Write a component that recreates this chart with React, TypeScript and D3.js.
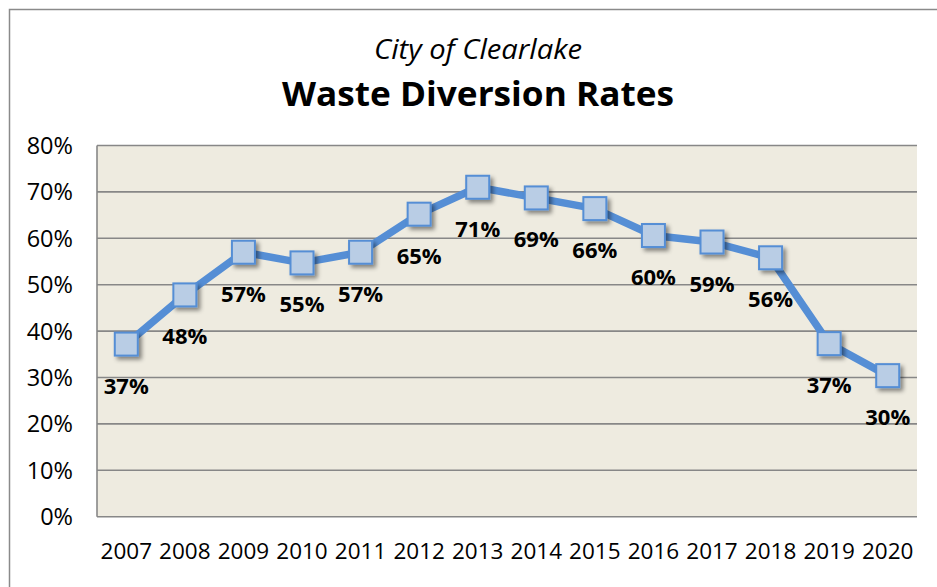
import React from "react";
import * as d3 from "d3";

const years = ["2007","2008","2009","2010","2011","2012","2013","2014","2015","2016","2017","2018","2019","2020"];
const rates = [37.2, 47.8, 57.0, 54.7, 57.0, 65.2, 71.0, 68.7, 66.4, 60.6, 59.2, 55.8, 37.3, 30.4];
const labels = ["37%","48%","57%","55%","57%","65%","71%","69%","66%","60%","59%","56%","37%","30%"];
const yTicks = [0, 10, 20, 30, 40, 50, 60, 70, 80];

const W = 937, H = 587;
const plot = { left: 97, right: 917, top: 145.5, bottom: 516.7 };
const FONT = "'Open Sans', sans-serif";

export default function App() {
  const x = d3.scaleBand<string>().domain(years).range([plot.left, plot.right]).padding(0);
  const y = d3.scaleLinear().domain([0, 80]).range([plot.bottom, plot.top]);
  const cx = (yr: string) => (x(yr) as number) + x.bandwidth() / 2;
  const line = d3.line<number>().x((_, i) => cx(years[i])).y((d) => y(d));
  const ms = 23;

  return (
    <svg width={W} height={H} style={{ position: "absolute", left: 0, top: 0, display: "block" }}>
      <defs>
        <filter id="sh" x="-50%" y="-50%" width="200%" height="200%">
          <feDropShadow dx="3" dy="3" stdDeviation="2.2" floodColor="#000" floodOpacity="0.45" />
        </filter>
      </defs>
      <rect x={0} y={0} width={W} height={H} fill="#fff" />
      <rect x={9.5} y={9.5} width={W + 20} height={H + 20} fill="none" stroke="#8a8a8a" strokeWidth={1.5} />

      <text x={478} y={59} textAnchor="middle" fontFamily={FONT} fontStyle="italic" fontSize={27} fill="#000" textLength={208} lengthAdjust="spacingAndGlyphs">City of Clearlake</text>
      <text x={478} y={106} textAnchor="middle" fontFamily={FONT} fontWeight="bold" fontSize={34} fill="#000" textLength={392} lengthAdjust="spacingAndGlyphs">Waste Diversion Rates</text>

      <rect x={plot.left} y={plot.top} width={plot.right - plot.left} height={plot.bottom - plot.top} fill="#eeebe0" />
      {yTicks.map((t) => (
        <line key={t} x1={plot.left} x2={plot.right} y1={y(t)} y2={y(t)} stroke="#878787" strokeWidth={1.6} />
      ))}
      <line x1={plot.left} x2={plot.left} y1={plot.top} y2={plot.bottom} stroke="#878787" strokeWidth={1.6} />

      {yTicks.map((t) => (
        <text key={t} x={73} y={y(t) + 8.5} textAnchor="end" fontFamily={FONT} fontSize={23.5} fill="#000">{t + "%"}</text>
      ))}
      {years.map((yr) => (
        <text key={yr} x={cx(yr)} y={559} textAnchor="middle" fontFamily={FONT} fontSize={22.5} fill="#000">{yr}</text>
      ))}

      <path d={line(rates) || ""} fill="none" stroke="#558ed5" strokeWidth={7.5} strokeLinejoin="round" />
      {rates.map((v, i) => (
        <rect key={i} x={cx(years[i]) - ms / 2} y={y(v) - ms / 2} width={ms} height={ms} fill="#b9cde5" stroke="#558ed5" strokeWidth={2} filter="url(#sh)" />
      ))}
      {rates.map((v, i) => (
        <text key={i} x={cx(years[i])} y={y(v) + 49.5} textAnchor="middle" fontFamily={FONT} fontWeight="bold" fontSize={22} fill="#000">{labels[i]}</text>
      ))}
    </svg>
  );
}
